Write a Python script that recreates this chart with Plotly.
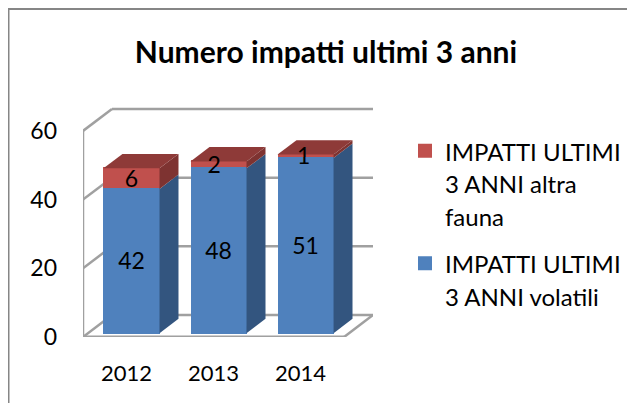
import plotly.graph_objects as go

# ---- data ----
years = ["2012", "2013", "2014"]
volatili = [42, 48, 51]
altra_fauna = [6, 2, 1]
title_text = "Numero impatti ultimi 3 anni"
name_fauna = "IMPATTI ULTIMI<br>3 ANNI altra<br>fauna"
name_volatili = "IMPATTI ULTIMI<br>3 ANNI volatili"
y_ticks = [0, 20, 40, 60]

# ---- style / pseudo-3D geometry (in axis units) ----
PAGE = 8                       # browser body margin around the figure
W, H = 635 - PAGE, 403 - PAGE
ML, MR, MT, MB = 83 - PAGE, 7, 50 - PAGE, 66
PLOT_W, PLOT_H = 290, 237      # size of the axes rectangle, inside the larger paper area
FONT = "Lato"
WALL_DX, WALL_DY = 0.333, 6.4
BAR_DX, BAR_DY = 0.218, 4.2
BAR_W = 0.644
EDGE = 2                       # same-colour outline, enlarges the legend swatch
OFF_X = (WALL_DX - BAR_DX) / 2
OFF_Y = (WALL_DY - BAR_DY) / 2
GRID = "#A0A0A0"
BLUE, BLUE_SIDE = "#4F81BD", "#33557F"
RED, RED_SIDE, RED_TOP = "#C0504D", "#7E3331", "#8E3A38"
X0, X1 = -0.5, 2.5
YMAX = 69
label_dx = [0, -0.05, -0.02]   # label nudges seen in the reference
LABEL_DY = -0.7
PW, PH = W - ML - MR, H - MT - MB
UNIT_X = PLOT_W / (X1 + WALL_DX - X0)
UNIT_Y = PLOT_H / YMAX

xs = list(range(len(years)))
bar_x = [x + OFF_X for x in xs]
base_b = [OFF_Y] * len(xs)
base_r = [OFF_Y + v for v in volatili]


def face(color, px_, py_):
    return go.Scatter(x=px_, y=py_, mode="lines", fill="toself", fillcolor=color,
                      line=dict(width=0), showlegend=False, hoverinfo="skip")


def px(page_x):
    return (page_x - PAGE - ML) / PW


def py(page_y):
    return 1 - (page_y - PAGE - MT) / PH


fig = go.Figure()
blank = "&#160;<br>"
fig.add_trace(go.Bar(x=bar_x, y=altra_fauna, base=base_r, width=BAR_W - EDGE / UNIT_X,
                     name=f'<span style="font-size:24px">{blank * 2}{name_fauna}</span>',
                     marker=dict(color=RED, line=dict(width=EDGE, color=RED)), legend="legend"))
fig.add_trace(go.Bar(x=bar_x, y=volatili, base=base_b, width=BAR_W - EDGE / UNIT_X,
                     name=f'<span style="font-size:24px">{blank}{name_volatili}</span>',
                     marker=dict(color=BLUE, line=dict(width=EDGE, color=BLUE)), legend="legend2"))

for x, v, f in zip(bar_x, volatili, altra_fauna):
    r = x + BAR_W / 2
    l = x - BAR_W / 2
    ym = OFF_Y + v
    yt = ym + f
    fig.add_trace(face(BLUE_SIDE, [r, r + BAR_DX, r + BAR_DX, r, r],
                       [OFF_Y, OFF_Y + BAR_DY, ym + BAR_DY, ym, OFF_Y]))
    fig.add_trace(face(RED_SIDE, [r, r + BAR_DX, r + BAR_DX, r, r],
                       [ym, ym + BAR_DY, yt + BAR_DY, yt, ym]))
    fig.add_trace(face(RED_TOP, [l, r, r + BAR_DX, l + BAR_DX, l],
                       [yt, yt, yt + BAR_DY, yt + BAR_DY, yt]))

# data labels
lx, ly, lt = [], [], []
for i, (x, v, f) in enumerate(zip(bar_x, volatili, altra_fauna)):
    lx += [x, x + label_dx[i]]
    ly += [OFF_Y + v / 2 + LABEL_DY, OFF_Y + v + f / 2 + LABEL_DY]
    lt += [str(v), str(f)]
fig.add_trace(go.Scatter(x=lx, y=ly, text=lt, mode="text", showlegend=False, hoverinfo="skip",
                         textposition="middle center", textfont=dict(family=FONT, size=23, color="black"),
                         cliponaxis=False))

# walls and floor
shapes = []


def seg(x0, y0, x1, y1, width=2.5):
    shapes.append(dict(type="line", xref="x", yref="y", x0=x0, y0=y0, x1=x1, y1=y1,
                       layer="below", line=dict(color=GRID, width=width)))


top = y_ticks[-1]
seg(X0, 0, X0, top)
for t in y_ticks:
    seg(X0, t, X0 + WALL_DX, t + WALL_DY)
    seg(X0 + WALL_DX, t + WALL_DY, X1 + WALL_DX, t + WALL_DY)
seg(X0, 0, X1, 0, 3)
seg(X1, 0, X1 + WALL_DX, WALL_DY)

# outer chart frame (reference is cropped on right and bottom)
for a, b, c, d in [(8.5, 9, 8.5, 403), (8, 9, 635, 9)]:
    shapes.append(dict(type="line", xref="paper", yref="paper", x0=px(a), y0=py(b), x1=px(c), y1=py(d),
                       line=dict(color="#868686", width=2), layer="below"))

legend_common = dict(xanchor="left", yanchor="top", traceorder="normal", itemwidth=30, itemclick=False,
                     font=dict(family=FONT, size=25, color="black"), bgcolor="rgba(0,0,0,0)")

fig.update_layout(
    width=W, height=H, autosize=False,
    margin=dict(l=ML, r=MR, t=MT, b=MB, pad=0),
    paper_bgcolor="white", plot_bgcolor="white",
    barmode="overlay", bargap=0,
    shapes=shapes,
    title=dict(text=f"<b>{title_text}</b>", x=(326 - PAGE) / W, xanchor="center",
               y=1 - (52 - PAGE) / H, yanchor="middle",
               font=dict(family=FONT, size=30, color="black")),
    xaxis=dict(domain=[0, PLOT_W / PW], range=[X0, X1 + WALL_DX], tickmode="array", tickvals=xs, ticktext=years,
               showgrid=False, zeroline=False, showline=False, ticks="",
               ticklabelstandoff=21, tickfont=dict(family=FONT, size=22, color="black")),
    yaxis=dict(domain=[0, PLOT_H / PH], range=[0, YMAX], tickmode="array", tickvals=y_ticks,
               showgrid=False, zeroline=False, showline=False, ticks="",
               ticklabelstandoff=25, tickfont=dict(family=FONT, size=23, color="black")),
    legend=dict(x=px(405), y=py(63), **legend_common),
    legend2=dict(x=px(405), y=py(208), **legend_common),
    showlegend=True,
)

fig.write_html("out.html")
